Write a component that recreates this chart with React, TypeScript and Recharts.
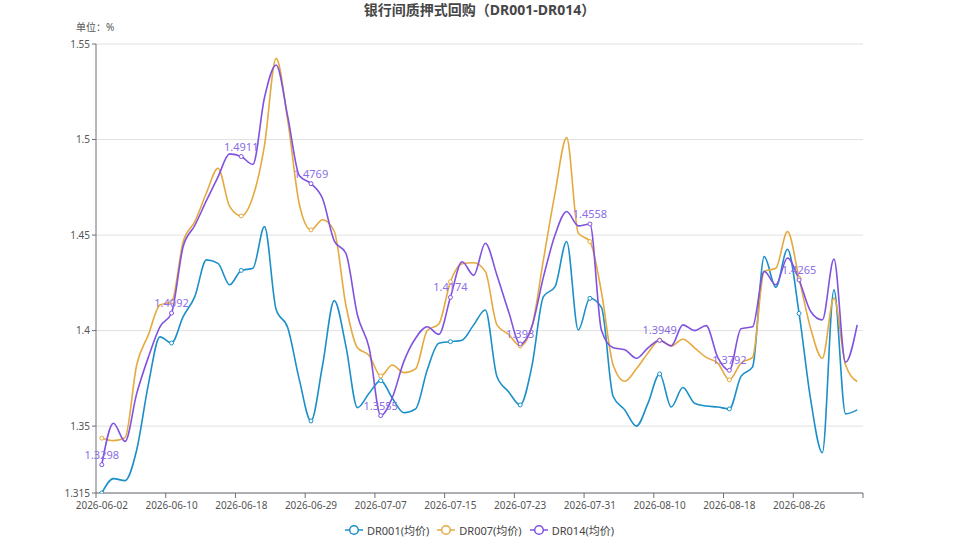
import React from 'react';
import { LineChart, Line, XAxis, YAxis, CartesianGrid } from 'recharts';

const dates = [
  '2026-06-02', '2026-06-03', '2026-06-04', '2026-06-05', '2026-06-08', '2026-06-09',
  '2026-06-10', '2026-06-11', '2026-06-12', '2026-06-15', '2026-06-16', '2026-06-17',
  '2026-06-18', '2026-06-22', '2026-06-23', '2026-06-24', '2026-06-25', '2026-06-26',
  '2026-06-29', '2026-06-30', '2026-07-01', '2026-07-02', '2026-07-03', '2026-07-06',
  '2026-07-07', '2026-07-08', '2026-07-09', '2026-07-10', '2026-07-13', '2026-07-14',
  '2026-07-15', '2026-07-16', '2026-07-17', '2026-07-20', '2026-07-21', '2026-07-22',
  '2026-07-23', '2026-07-24', '2026-07-27', '2026-07-28', '2026-07-29', '2026-07-30',
  '2026-07-31', '2026-08-03', '2026-08-04', '2026-08-05', '2026-08-06', '2026-08-07',
  '2026-08-10', '2026-08-11', '2026-08-12', '2026-08-13', '2026-08-14', '2026-08-17',
  '2026-08-18', '2026-08-19', '2026-08-20', '2026-08-21', '2026-08-24', '2026-08-25',
  '2026-08-26', '2026-08-27', '2026-08-28', '2026-08-31', '2026-09-01', '2026-09-02',
];

const dr001 = [
  1.315, 1.3225, 1.3215, 1.3375, 1.3716, 1.3967, 1.3935, 1.4073, 1.4178, 1.437, 1.4352, 1.424,
  1.4315, 1.4326, 1.4544, 1.411, 1.4015, 1.3742, 1.3527, 1.382, 1.4157, 1.392, 1.3597, 1.3672,
  1.3738, 1.3646, 1.357, 1.359, 1.3794, 1.3934, 1.3942, 1.395, 1.403, 1.4108, 1.376, 1.368,
  1.3611, 1.3811, 1.4178, 1.423, 1.4466, 1.4003, 1.4169, 1.412, 1.3655, 1.3585, 1.35, 1.362,
  1.3773, 1.36, 1.3702, 1.362, 1.3605, 1.36, 1.359, 1.376, 1.381, 1.4387, 1.4227, 1.4426,
  1.409, 1.3637, 1.3361, 1.4213, 1.3564, 1.3585,
];

const dr007 = [
  1.3437, 1.3424, 1.344, 1.382, 1.3977, 1.4134, 1.415, 1.4465, 1.457, 1.472, 1.485, 1.465,
  1.46, 1.47, 1.497, 1.5425, 1.51, 1.466, 1.4527, 1.458, 1.452, 1.4134, 1.391, 1.387,
  1.3763, 1.382, 1.378, 1.38, 1.4, 1.4035, 1.4256, 1.435, 1.4355, 1.431, 1.403, 1.398,
  1.392, 1.402, 1.437, 1.472, 1.501, 1.451, 1.4466, 1.42, 1.382, 1.3735, 1.38, 1.3883,
  1.395, 1.392, 1.3955, 1.391, 1.386, 1.383, 1.3742, 1.383, 1.386, 1.431, 1.4326, 1.4518,
  1.4274, 1.401, 1.3855, 1.417, 1.382, 1.3733,
];

const dr014 = [
  1.3298, 1.3515, 1.342, 1.367, 1.386, 1.402, 1.4092, 1.444, 1.455, 1.468, 1.4805, 1.4925,
  1.4911, 1.487, 1.522, 1.539, 1.512, 1.481, 1.4769, 1.469, 1.447, 1.4405, 1.408, 1.391,
  1.3555, 1.365, 1.384, 1.396, 1.402, 1.398, 1.4174, 1.436, 1.429, 1.4457, 1.429, 1.41,
  1.393, 1.402, 1.428, 1.45, 1.4623, 1.4548, 1.4558, 1.4, 1.391, 1.39, 1.3855, 1.391,
  1.3949, 1.392, 1.403, 1.4, 1.4026, 1.386, 1.3792, 1.401, 1.402, 1.431, 1.424, 1.438,
  1.4265, 1.41, 1.4056, 1.4374, 1.3834, 1.403,
];

const yTicks = [1.315, 1.35, 1.4, 1.45, 1.5, 1.55];

const seriesList = [
  { key: 'DR001', name: 'DR001(均价)', color: '#1b8fc8' },
  { key: 'DR007', name: 'DR007(均价)', color: '#e6a940' },
  { key: 'DR014', name: 'DR014(均价)', color: '#8052e0' },
];

const data = dates.map((d, i) => ({ date: d, DR001: dr001[i], DR007: dr007[i], DR014: dr014[i] }));

const FONT = '"Noto Sans", "Noto Sans CJK SC", sans-serif';
const W = 959;
const H = 539;
const MARGIN = { top: 44, right: 96, bottom: 16, left: 36 };
const Y_WIDTH = 60;
const PLOT_W = W - MARGIN.left - MARGIN.right - Y_WIDTH;
const BAND = PLOT_W / dates.length;
const STEP = 6;
const TICK_SIZE = 5;
const TICK_MARGIN = 3;

const XTick = (props: any) => {
  const { x, y, payload } = props;
  const axisY = y - TICK_SIZE - TICK_MARGIN;
  const idx = payload.index;
  const isLast = idx + STEP > dates.length - 1;
  return (
    <g>
      <line x1={x - BAND / 2} x2={x - BAND / 2} y1={axisY} y2={axisY + TICK_SIZE} stroke="#6e7079" />
      {isLast && (
        <line
          x1={x + (dates.length - idx - 0.5) * BAND}
          x2={x + (dates.length - idx - 0.5) * BAND}
          y1={axisY}
          y2={axisY + TICK_SIZE}
          stroke="#6e7079"
        />
      )}
      <text x={x} y={y} dy="0.75em" textAnchor="middle" fontSize={10} fill="#555" fontFamily={FONT}>
        {payload.value}
      </text>
    </g>
  );
};

const makeDot = (color: string) => (p: any) => {
  const { cx, cy, index } = p;
  if (index % STEP !== 0) return <g key={`d-${index}`} />;
  return <circle key={`d-${index}`} cx={cx} cy={cy} r={2} fill="#fff" stroke={color} strokeWidth={1} />;
};

const purpleLabel = (p: any) => {
  const { x, y, value, index } = p;
  if (index % STEP !== 0) return <g key={`l-${index}`} />;
  return (
    <text key={`l-${index}`} x={x} y={y - 6} textAnchor="middle" fontSize={11} fill="#8c6ee6" fontFamily={FONT}>
      {value}
    </text>
  );
};

function LegendIcon({ color }: { color: string }) {
  return (
    <svg width={18} height={12} style={{ marginRight: 4 }}>
      <line x1={0} x2={18} y1={6} y2={6} stroke={color} strokeWidth={1.5} />
      <circle cx={9} cy={6} r={4.3} fill="#fff" stroke={color} strokeWidth={1.5} />
    </svg>
  );
}

export default function App() {
  return (
    <div style={{ position: 'absolute', left: 0, top: 0, width: W, height: H, background: '#fff', fontFamily: FONT }}>
      <div
        style={{
          position: 'absolute', top: 0, left: 0, width: W, textAlign: 'center',
          fontSize: 14, fontWeight: 'bold', color: '#464646', lineHeight: '20px',
        }}
      >
        银行间质押式回购（DR001-DR014）
      </div>
      <div style={{ position: 'absolute', top: 21, left: 76, fontSize: 10, color: '#555', lineHeight: '12px' }}>
        单位：%
      </div>
      <LineChart width={W} height={H} data={data} margin={MARGIN}>
        <CartesianGrid horizontal vertical={false} stroke="#e0e0e0" />
        <XAxis
          dataKey="date"
          interval={STEP - 1}
          padding={{ left: BAND / 2, right: BAND / 2 }}
          height={30}
          tickLine={false}
          tickSize={TICK_SIZE}
          tickMargin={TICK_MARGIN}
          axisLine={{ stroke: '#6e7079' }}
          tick={<XTick />}
        />
        <YAxis
          type="number"
          domain={[1.315, 1.55]}
          ticks={yTicks}
          width={Y_WIDTH}
          tickSize={4}
          tickMargin={2}
          axisLine={{ stroke: '#6e7079' }}
          tickLine={{ stroke: '#6e7079' }}
          tick={{ fontSize: 10, fill: '#555', fontFamily: FONT }}
          allowDataOverflow
        />
        {seriesList.map((s) => (
          <Line
            key={s.key}
            type="monotone"
            dataKey={s.key}
            name={s.name}
            stroke={s.color}
            strokeWidth={1.6}
            dot={makeDot(s.color)}
            activeDot={false}
            label={s.key === 'DR014' ? purpleLabel : false}
            isAnimationActive={false}
          />
        ))}
      </LineChart>
      <div
        style={{
          position: 'absolute', top: 522, left: 0, width: W, display: 'flex',
          justifyContent: 'center', alignItems: 'center', fontSize: 11, color: '#444',
        }}
      >
        {seriesList.map((s) => (
          <div key={s.key} style={{ display: 'flex', alignItems: 'center', margin: '0 4px' }}>
            <LegendIcon color={s.color} />
            <span>{s.name}</span>
          </div>
        ))}
      </div>
    </div>
  );
}
